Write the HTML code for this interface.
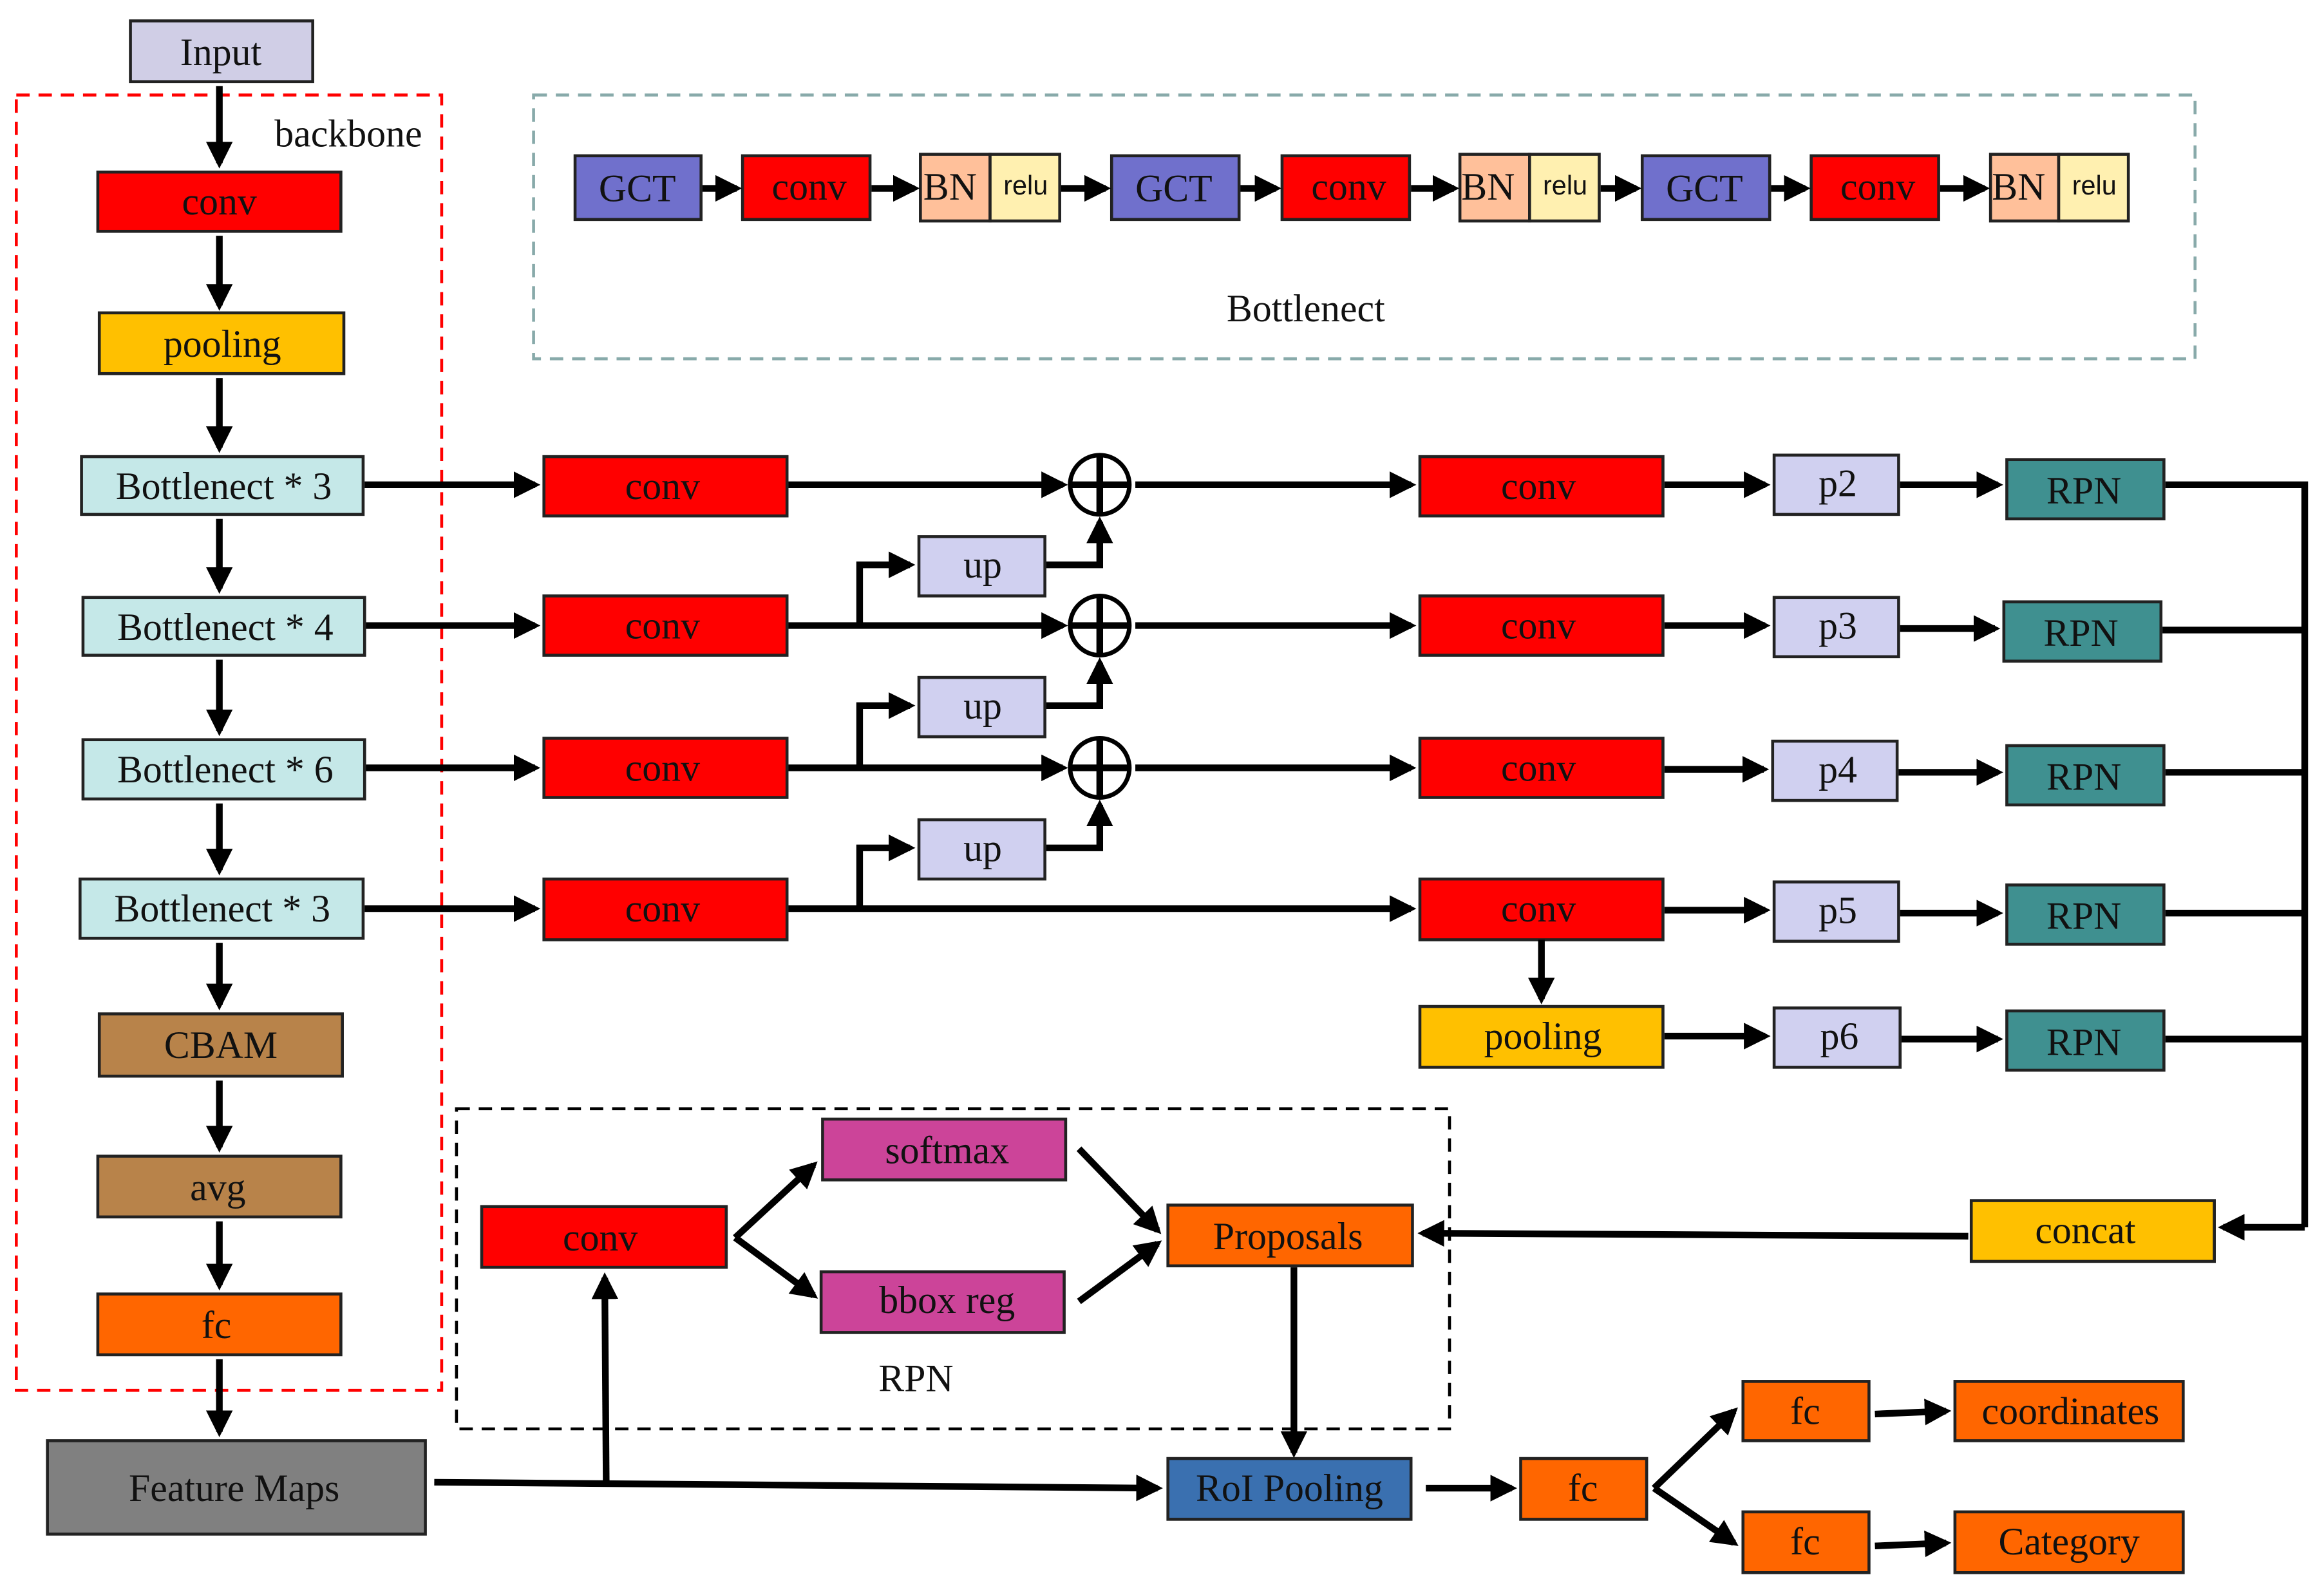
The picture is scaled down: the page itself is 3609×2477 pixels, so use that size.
<!DOCTYPE html>
<html><head><meta charset="utf-8"><style>
html,body{margin:0;padding:0;background:#fff;}
svg{display:block;}
text{font-family:"Liberation Serif",serif;font-size:26px;text-anchor:middle;dominant-baseline:central;fill:#111;}
.s{font-family:"Liberation Sans",sans-serif;font-size:18px;}
rect.b{stroke:#222;stroke-width:2;}
.l{stroke:#000;stroke-width:4.5;fill:none;}
.a{stroke:#000;stroke-width:4.5;fill:none;marker-end:url(#ah);}
</style></head><body>
<svg width="3609" height="2477" viewBox="0 0 1568 1076" xmlns="http://www.w3.org/2000/svg">
<defs><marker id="ah" viewBox="0 0 10 10" refX="8" refY="5" markerWidth="4" markerHeight="4" orient="auto" markerUnits="strokeWidth"><path d="M0,0 L10,5 L0,10 z" fill="#000"/></marker></defs>
<rect width="1568" height="1076" fill="#fff"/>
<!-- dashed boxes -->
<rect x="11" y="64" width="287" height="874" fill="none" stroke="#f00" stroke-width="2" stroke-dasharray="9,6"/>
<rect x="360" y="64" width="1121" height="178" fill="none" stroke="#8aa" stroke-width="2" stroke-dasharray="9,6"/>
<rect x="308" y="748" width="670" height="216" fill="none" stroke="#000" stroke-width="2" stroke-dasharray="9,6"/>
<text x="235" y="90">backbone</text>
<text x="881" y="208">Bottlenect</text>
<text x="618" y="930">RPN</text>
<!-- backbone -->
<rect class="b" x="88" y="14" width="123" height="41" fill="#d0cee6"/><text x="149" y="35">Input</text>
<rect class="b" x="66" y="116" width="164" height="40" fill="#f00"/><text x="148" y="136">conv</text>
<rect class="b" x="67" y="211" width="165" height="41" fill="#ffc000"/><text x="150" y="232">pooling</text>
<rect class="b" x="55" y="308" width="190" height="39" fill="#c5e8e8"/><text x="151" y="328">Bottlenect * 3</text>
<rect class="b" x="56" y="403" width="190" height="39" fill="#c5e8e8"/><text x="152" y="423">Bottlenect * 4</text>
<rect class="b" x="56" y="499" width="190" height="40" fill="#c5e8e8"/><text x="152" y="519">Bottlenect * 6</text>
<rect class="b" x="54" y="593" width="191" height="40" fill="#c5e8e8"/><text x="150" y="613">Bottlenect * 3</text>
<rect class="b" x="67" y="684" width="164" height="42" fill="#b8834a"/><text x="149" y="705">CBAM</text>
<rect class="b" x="66" y="780" width="164" height="41" fill="#b8834a"/><text x="147" y="801">avg</text>
<rect class="b" x="66" y="873" width="164" height="41" fill="#ff6600"/><text x="146" y="894">fc</text>
<rect class="b" x="32" y="972" width="255" height="63" fill="#808080"/><text x="158" y="1004">Feature Maps</text>
<path class="a" d="M148,58 V110"/><path class="a" d="M148,159 V206"/><path class="a" d="M148,255 V302"/>
<path class="a" d="M148,350 V397"/><path class="a" d="M148,445 V493"/><path class="a" d="M148,542 V587"/>
<path class="a" d="M148,636 V678"/><path class="a" d="M148,729 V774"/><path class="a" d="M148,824 V867"/><path class="a" d="M148,917 V966"/>
<!-- bottleneck detail -->
<g>
<rect class="b" x="388" y="105" width="85" height="43" fill="#7070cc"/><text x="430" y="127">GCT</text>
<rect class="b" x="501" y="105" width="86" height="43" fill="#f00"/><text x="546" y="126">conv</text>
<rect class="b" x="621" y="104" width="47" height="45" fill="#ffc09a"/><text x="641" y="126">BN</text>
<rect class="b" x="668" y="104" width="47" height="45" fill="#fff0b0"/><text class="s" x="692" y="125">relu</text>
<rect class="b" x="750" y="105" width="86" height="43" fill="#7070cc"/><text x="792" y="127">GCT</text>
<rect class="b" x="865" y="105" width="86" height="43" fill="#f00"/><text x="910" y="126">conv</text>
<rect class="b" x="985" y="104" width="47" height="45" fill="#ffc09a"/><text x="1004" y="126">BN</text>
<rect class="b" x="1032" y="104" width="47" height="45" fill="#fff0b0"/><text class="s" x="1056" y="125">relu</text>
<rect class="b" x="1108" y="105" width="86" height="43" fill="#7070cc"/><text x="1150" y="127">GCT</text>
<rect class="b" x="1222" y="105" width="86" height="43" fill="#f00"/><text x="1267" y="126">conv</text>
<rect class="b" x="1343" y="104" width="46" height="45" fill="#ffc09a"/><text x="1362" y="126">BN</text>
<rect class="b" x="1389" y="104" width="47" height="45" fill="#fff0b0"/><text class="s" x="1413" y="125">relu</text>
<path class="a" d="M474,127 H497"/><path class="a" d="M588,127 H617"/><path class="a" d="M716,127 H746"/>
<path class="a" d="M837,127 H861"/><path class="a" d="M952,127 H981"/><path class="a" d="M1080,127 H1104"/>
<path class="a" d="M1195,127 H1218"/><path class="a" d="M1309,127 H1339"/>
</g>
<!-- FPN -->
<g>
<rect class="b" x="367" y="308" width="164" height="40" fill="#f00"/><text x="447" y="328">conv</text>
<rect class="b" x="367" y="402" width="164" height="40" fill="#f00"/><text x="447" y="422">conv</text>
<rect class="b" x="367" y="498" width="164" height="40" fill="#f00"/><text x="447" y="518">conv</text>
<rect class="b" x="367" y="593" width="164" height="41" fill="#f00"/><text x="447" y="613">conv</text>
<path class="a" d="M246,327 H361"/><path class="a" d="M247,422 H361"/><path class="a" d="M247,518 H361"/><path class="a" d="M246,613 H361"/>
<rect class="b" x="620" y="362" width="85" height="40" fill="#d0d0f0"/><text x="663" y="381">up</text>
<rect class="b" x="620" y="457" width="85" height="40" fill="#d0d0f0"/><text x="663" y="476">up</text>
<rect class="b" x="620" y="553" width="85" height="40" fill="#d0d0f0"/><text x="663" y="572">up</text>
<g fill="#fff" stroke="#000" stroke-width="3">
<circle cx="742" cy="327" r="20"/><circle cx="742" cy="422" r="20"/><circle cx="742" cy="518" r="20"/></g>
<path class="l" d="M742,307 V347 M722,327 H762 M742,402 V442 M722,422 H762 M742,498 V538 M722,518 H762" stroke-width="2.5"/>
<path class="a" d="M532,327 H717"/><path class="a" d="M532,422 H717"/><path class="a" d="M532,518 H717"/><path class="a" d="M532,613 H952"/>
<path class="a" d="M580,422 V381 H614"/><path class="a" d="M580,518 V476 H614"/><path class="a" d="M580,613 V572 H614"/>
<path class="a" d="M706,381 H742 V352"/><path class="a" d="M706,476 H742 V447"/><path class="a" d="M706,572 H742 V543"/>
<path class="a" d="M766,327 H952"/><path class="a" d="M766,422 H952"/><path class="a" d="M766,518 H952"/>
<rect class="b" x="958" y="308" width="164" height="40" fill="#f00"/><text x="1038" y="328">conv</text>
<rect class="b" x="958" y="402" width="164" height="40" fill="#f00"/><text x="1038" y="422">conv</text>
<rect class="b" x="958" y="498" width="164" height="40" fill="#f00"/><text x="1038" y="518">conv</text>
<rect class="b" x="958" y="593" width="164" height="41" fill="#f00"/><text x="1038" y="613">conv</text>
<rect class="b" x="958" y="679" width="164" height="41" fill="#ffc000"/><text x="1041" y="699">pooling</text>
<path class="a" d="M1040,634 V674"/>
<rect class="b" x="1197" y="307" width="84" height="40" fill="#d0d0f0"/><text x="1240" y="326">p2</text>
<rect class="b" x="1197" y="403" width="84" height="40" fill="#d0d0f0"/><text x="1240" y="422">p3</text>
<rect class="b" x="1196" y="500" width="84" height="40" fill="#d0d0f0"/><text x="1240" y="519">p4</text>
<rect class="b" x="1197" y="595" width="84" height="40" fill="#d0d0f0"/><text x="1240" y="614">p5</text>
<rect class="b" x="1197" y="680" width="85" height="40" fill="#d0d0f0"/><text x="1241" y="699">p6</text>
<path class="a" d="M1123,327 H1191"/><path class="a" d="M1123,422 H1191"/><path class="a" d="M1123,519 H1190"/><path class="a" d="M1123,614 H1191"/><path class="a" d="M1123,699 H1191"/>
<rect class="b" x="1354" y="310" width="106" height="40" fill="#3f9090"/><text x="1406" y="331">RPN</text>
<rect class="b" x="1352" y="406" width="106" height="40" fill="#3f9090"/><text x="1404" y="427">RPN</text>
<rect class="b" x="1354" y="503" width="106" height="40" fill="#3f9090"/><text x="1406" y="524">RPN</text>
<rect class="b" x="1354" y="597" width="106" height="40" fill="#3f9090"/><text x="1406" y="618">RPN</text>
<rect class="b" x="1354" y="682" width="106" height="40" fill="#3f9090"/><text x="1406" y="703">RPN</text>
<path class="a" d="M1282,327 H1348"/><path class="a" d="M1282,424 H1346"/><path class="a" d="M1281,521 H1348"/><path class="a" d="M1282,616 H1348"/><path class="a" d="M1283,701 H1348"/>
<path class="l" d="M1461,327 H1555 V828 M1459,425 H1555 M1461,521 H1555 M1461,616 H1555 M1461,701 H1555"/>
<path class="a" d="M1555,828 H1500"/>
</g>
<!-- RPN section -->
<rect class="b" x="1330" y="810" width="164" height="41" fill="#ffc000"/><text x="1407" y="830">concat</text>
<path class="a" d="M1328,834 L960,832"/>
<rect class="b" x="325" y="814" width="165" height="41" fill="#f00"/><text x="405" y="835">conv</text>
<rect class="b" x="555" y="755" width="164" height="41" fill="#cc4499"/><text x="639" y="776">softmax</text>
<rect class="b" x="554" y="858" width="164" height="41" fill="#cc4499"/><text x="639" y="877">bbox reg</text>
<rect class="b" x="788" y="813" width="165" height="41" fill="#ff6600"/><text x="869" y="834">Proposals</text>
<path class="a" d="M496,835 L549,786"/><path class="a" d="M496,835 L549,874"/>
<path class="a" d="M728,775 L781,830"/><path class="a" d="M728,878 L781,839"/>
<path class="a" d="M873,855 V980"/>
<rect class="b" x="788" y="984" width="164" height="41" fill="#3a70b0"/><text x="870" y="1004">RoI Pooling</text>
<path class="a" d="M293,1000 L781,1004"/>
<path class="a" d="M409,1000 L408,862"/>
<path class="a" d="M962,1004 H1020"/>
<rect class="b" x="1026" y="984" width="85" height="41" fill="#ff6600"/><text x="1068" y="1004">fc</text>
<path class="a" d="M1116,1004 L1170,952"/><path class="a" d="M1116,1004 L1170,1041"/>
<rect class="b" x="1176" y="932" width="85" height="40" fill="#ff6600"/><text x="1218" y="952">fc</text>
<rect class="b" x="1176" y="1020" width="85" height="41" fill="#ff6600"/><text x="1218" y="1040">fc</text>
<path class="a" d="M1265,954 L1313,952"/><path class="a" d="M1265,1043 L1313,1041"/>
<rect class="b" x="1319" y="932" width="154" height="40" fill="#ff6600"/><text x="1397" y="952">coordinates</text>
<rect class="b" x="1319" y="1020" width="154" height="41" fill="#ff6600"/><text x="1396" y="1040">Category</text>
</svg>
</body></html>
